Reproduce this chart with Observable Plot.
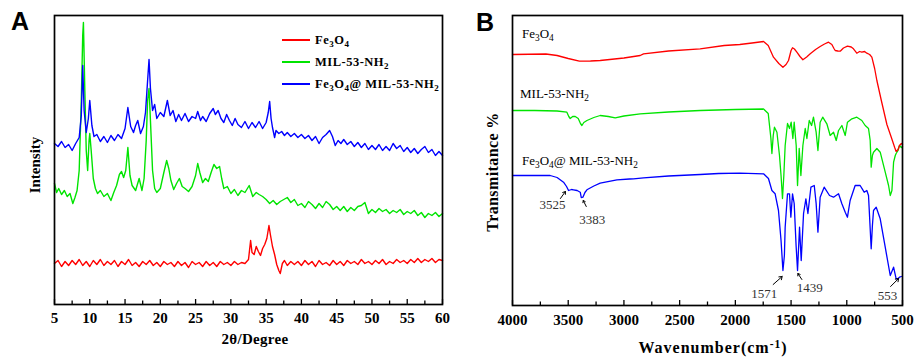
<!DOCTYPE html>
<html><head><meta charset="utf-8">
<script src="https://cdn.jsdelivr.net/npm/d3@7"></script>
<script src="https://cdn.jsdelivr.net/npm/@observablehq/plot@0.6"></script>
<style>
body{margin:0;background:#fff;}
#wrap{position:relative;width:914px;height:357px;overflow:hidden;font-family:"Liberation Serif",serif;color:#000;}
.panel{position:absolute;top:0;}
.lbl{position:absolute;white-space:nowrap;color:#000;line-height:1;}
.s{font-size:0.72em;position:relative;top:0.32em;}
.p{font-size:0.72em;position:relative;top:-0.45em;}
.bold{font-weight:bold;}
.c{transform:translate(-50%,-50%);}
.r{transform:translate(-50%,-50%) rotate(-90deg);}
.ml{transform:translateY(-50%);}
.leg{position:absolute;height:1.5px;}
</style></head><body><div id="wrap"></div>
<script>
// ---------- Panel A: XRD (2θ in degrees, intensity in arbitrary units) ----------
const xrdFe3O4 = [[5,41],[5.5,44],[6,38],[6.5,43],[7,39],[7.5,44],[8,40],[8.5,45],[9,39],[9.5,43],[10,38],[10.5,44],[11,40],[11.5,45],[12,39],[12.5,43],[13,40],[13.5,44],[14,38],[14.5,43],[15,40],[15.5,45],[16,39],[16.5,42],[17,38],[17.5,43],[18,40],[18.5,44],[19,39],[19.5,42],[20,38],[20.5,43],[21,40],[21.5,42],[22,38],[22.5,43],[23,39],[23.5,42],[24,37],[24.5,43],[25,40],[25.5,42],[26,38],[26.5,43],[27,39],[27.5,42],[28,38],[28.5,43],[29,40],[29.5,42],[30,39],[30.5,43],[31,40],[31.5,42],[32,41],[32.5,45],[32.8,64],[33,52],[33.3,50],[33.6,58],[33.9,53],[34.2,49],[34.5,56],[34.8,60],[35.1,66],[35.4,79],[35.6,70],[35.9,58],[36.2,50],[36.5,40],[36.8,34],[37,31],[37.3,41],[37.6,44],[38,39],[38.5,43],[39,40],[39.5,43],[40,39],[40.5,44],[41,40],[41.5,43],[42,38],[42.5,44],[43,40],[43.5,42],[44,39],[44.5,44],[45,40],[45.5,43],[46,39],[46.5,44],[47,41],[47.5,43],[48,40],[48.5,45],[49,41],[49.5,43],[50,40],[50.5,44],[51,41],[51.5,45],[52,40],[52.5,43],[53,41],[53.5,45],[54,42],[54.5,44],[55,41],[55.5,45],[56,42],[56.5,46],[57,42],[57.5,45],[58,43],[58.5,46],[59,42],[59.5,45],[60,44]];
const xrdMIL = [[5,121],[5.3,112],[5.6,116],[6,110],[6.4,114],[6.8,108],[7.2,111],[7.6,101],[7.9,107],[8.2,114],[8.5,134],[8.8,204],[9,269],[9.1,282],[9.3,214],[9.5,154],[9.7,134],[9.9,164],[10,171],[10.2,154],[10.5,126],[10.8,116],[11.1,111],[11.5,114],[12,108],[12.5,111],[13,104],[13.4,112],[13.8,119],[14.2,130],[14.5,133],[14.8,127],[15.1,134],[15.4,157],[15.7,129],[16,119],[16.5,114],[17,126],[17.4,114],[17.7,126],[18,164],[18.2,204],[18.4,216],[18.6,184],[18.9,134],[19.2,116],[19.5,112],[20,116],[20.5,132],[20.9,144],[21.2,136],[21.5,124],[21.9,115],[22.3,121],[22.7,126],[23.1,118],[23.5,116],[24,113],[24.5,118],[25,129],[25.3,141],[25.6,132],[26,122],[26.4,126],[26.8,123],[27.2,132],[27.6,140],[28,136],[28.4,138],[28.7,126],[29,116],[29.5,118],[30,111],[30.5,115],[31,109],[31.5,114],[32,112],[32.6,119],[33.1,108],[33.6,112],[34,110],[34.5,108],[35,105],[35.5,101],[36,104],[36.5,100],[37,103],[37.5,105],[38,107],[38.5,102],[39,105],[39.5,99],[40,101],[40.5,97],[41,103],[41.5,100],[42,96],[42.5,101],[43,97],[43.5,103],[44,100],[44.5,95],[45,98],[45.5,94],[46,98],[46.5,93],[47,97],[47.5,94],[48,98],[48.5,99],[49,102],[49.5,91],[50,95],[50.5,92],[51,96],[51.5,93],[52,95],[52.5,91],[53,94],[53.5,92],[54,95],[54.5,90],[55,93],[55.5,91],[56,94],[56.5,89],[57,92],[57.5,87],[58,91],[58.5,89],[59,92],[59.5,88],[60,91]];
const xrdComposite = [[5,161],[5.5,158],[6,163],[6.5,157],[7,160],[7.5,154],[8,161],[8.5,167],[8.8,189],[9,239],[9.2,194],[9.5,172],[9.8,186],[10,204],[10.3,179],[10.6,168],[11,170],[11.5,163],[12,168],[12.5,162],[13,169],[13.5,164],[14,170],[14.5,166],[15,176],[15.4,197],[15.8,178],[16.2,172],[16.5,179],[16.8,184],[17.2,171],[17.6,178],[17.9,192],[18.2,224],[18.4,245],[18.6,216],[18.9,194],[19.2,200],[19.5,186],[20,192],[20.5,188],[21,204],[21.4,189],[21.8,194],[22.2,183],[22.6,190],[23,184],[23.5,191],[24,183],[24.5,188],[25,186],[25.3,193],[25.7,184],[26,188],[26.5,183],[27,191],[27.5,196],[27.8,190],[28.2,194],[28.6,186],[29,182],[29.4,190],[29.8,184],[30.2,179],[30.6,186],[31,180],[31.5,177],[32,183],[32.5,176],[33,182],[33.5,177],[34,183],[34.5,176],[35,182],[35.3,192],[35.5,203],[35.7,186],[35.9,177],[36.2,167],[36.4,174],[36.8,171],[37.2,173],[37.6,169],[38,172],[38.5,168],[39,171],[39.5,167],[40,170],[40.5,166],[41,169],[41.5,164],[42,168],[42.5,161],[43,167],[43.5,170],[44,174],[44.4,168],[44.8,159],[45.2,164],[45.6,161],[46,165],[46.5,160],[47,163],[47.5,158],[48,162],[48.5,157],[49,161],[49.5,155],[50,159],[50.5,155],[51,160],[51.5,154],[52,158],[52.5,154],[53,161],[53.5,156],[54,159],[54.5,153],[55,157],[55.5,152],[56,156],[56.5,151],[57,155],[57.5,158],[58,152],[58.5,155],[59,149],[59.5,153],[60,149]];
const xrdMajorTicks = [5,10,15,20,25,30,35,40,45,50,55,60];
const xrdMinorTicks = [7.5,12.5,17.5,22.5,27.5,32.5,37.5,42.5,47.5,52.5,57.5];

// ---------- Panel B: FTIR (wavenumber in cm-1, transmittance in arbitrary units) ----------
const ftirFe3O4 = [[4000,251],[3700,251.5],[3600,250],[3500,247],[3400,244.3],[3300,244.5],[3213,245],[3000,247.5],[2854,250],[2824,251.7],[2600,254.5],[2316,256.7],[2100,260],[1960,261],[1850,262.5],[1747,264],[1705,260],[1658,248.3],[1610,242],[1573,238.3],[1545,241],[1523,245],[1500,255],[1487,257.7],[1470,256.5],[1448,253.3],[1420,249],[1394,245.7],[1360,248.5],[1328,251.7],[1280,256],[1239,259],[1200,261.5],[1164,263.3],[1134,261],[1115,257],[1104,255],[1080,254.5],[1059,254.3],[1030,257.5],[994,259.3],[960,258.5],[940,256.7],[910,252.3],[885,254],[865,253.3],[840,254],[820,252.3],[795,251],[775,248.3],[750,237],[730,225],[690,205],[640,181],[600,168],[570,158],[557,154],[540,156],[527,160],[510,162],[500,161]];
const ftirMIL = [[4000,195],[3800,195],[3600,194.5],[3512,193.3],[3495,189],[3482,187],[3460,189],[3437,189],[3410,187],[3390,182],[3377,180],[3360,183],[3332,185],[3270,188],[3213,190],[3140,189],[3078,187.7],[3000,189.5],[2854,191.7],[2600,193.5],[2316,195],[2000,196],[1747,196.5],[1705,192],[1681,167],[1672,152],[1660,170],[1649,178.3],[1627,173.3],[1604,150],[1590,130],[1577,107],[1565,130],[1553,160],[1532,182],[1514,177],[1499,183.3],[1484,167],[1472,183.3],[1454,160],[1442,120],[1427,157],[1412,130],[1394,160],[1373,177],[1358,167],[1337,185],[1316,180],[1299,188.3],[1275,173.3],[1259,155],[1239,183.3],[1216,188.3],[1179,181.7],[1149,170],[1119,173.3],[1095,165],[1074,175],[1044,180],[1014,170],[994,183.3],[954,186.7],[910,188.3],[865,185],[835,180],[805,177],[790,165],[781,138.3],[770,150],[760,153.3],[730,157],[700,153.3],[655,133.3],[625,120],[610,110],[595,115],[580,143.3],[565,150],[557,152],[540,155],[527,160],[510,158],[500,159]];
const ftirComposite = [[4000,130],[3800,130],[3662,130],[3600,128],[3542,123.3],[3515,119],[3497,115],[3470,116],[3453,115.7],[3420,115],[3392,113.3],[3383,108],[3368,108.3],[3350,113],[3332,115.7],[3270,119.5],[3213,122.3],[3063,125.7],[2950,126.5],[2914,126.7],[2824,127.7],[2600,129.5],[2316,131],[2150,132],[1960,132.3],[1747,131.7],[1703,127],[1672,115],[1643,111.7],[1613,95],[1590,65],[1573,35],[1560,50],[1553,78.3],[1532,111.7],[1514,111.7],[1502,88.3],[1487,111.7],[1472,102],[1455,60],[1442,35],[1424,78.3],[1409,45],[1388,92],[1367,106.7],[1349,92],[1322,118.3],[1292,120],[1275,102],[1259,73.3],[1239,108.3],[1203,118.3],[1155,110],[1119,108.3],[1074,111.7],[1044,101.7],[1014,93.3],[994,88.3],[970,105],[925,120],[880,120],[844,113.3],[820,115],[805,110],[781,56.7],[770,80],[760,95],[736,98.3],[700,86.7],[655,58.3],[610,30],[580,38.3],[557,26.7],[540,27],[527,28.3],[510,29]];
const ftirMajorTicks = [4000,3500,3000,2500,2000,1500,1000,500];
const ftirMinorTicks = [3750,3250,2750,2250,1750,1250,750];
const peakLabels = ["3525","3383","1571","1439","553"];
const peakWavenumbers = [3525,3383,1571,1439,553];
const peakTransmittance = [115,108,35,35,27];

const names = ["Fe3O4","MIL-53-NH2","Fe3O4@MIL-53-NH2"];
const colors = ["#ff0000","#00e400","#0000ff"];
const rows = (pairs, i) => pairs.map(([x, y]) => ({x, y, name: names[i]}));

const W = 457, H = 357;
const axisFont = {fontSize: 15, fontWeight: "bold", fontFamily: "Liberation Serif"};
// inward tick marks drawn as short rules from the bottom of the frame (y units = px here)
const inTicks = (values, len) => Plot.ruleX(values, {x: d => d, y1: 0, y2: len, stroke: "#000", strokeWidth: 1.3});

// Panel A
const mA = {l: 54, r: 15, t: 15, b: 53};
const chartA = Plot.plot({
  width: W, height: H, marginLeft: mA.l, marginRight: mA.r, marginTop: mA.t, marginBottom: mA.b,
  x: {domain: [5, 60]},
  y: {domain: [0, 289], axis: null},
  style: {background: "transparent", color: "#000", fontFamily: "Liberation Serif", overflow: "visible"},
  marks: [
    Plot.line(rows(xrdFe3O4, 0), {x: "x", y: "y", stroke: colors[0], strokeWidth: 1.4}),
    Plot.line(rows(xrdMIL, 1), {x: "x", y: "y", stroke: colors[1], strokeWidth: 1.4}),
    Plot.line(rows(xrdComposite, 2), {x: "x", y: "y", stroke: colors[2], strokeWidth: 1.4}),
    Plot.frame({stroke: "#000", strokeWidth: 1.7}),
    inTicks(xrdMajorTicks, 5),
    inTicks(xrdMinorTicks, 3.5),
    Plot.axisX(xrdMajorTicks, {tickSize: 0, tickPadding: 8, label: null, ...axisFont})
  ]
});

// Panel B
const mB = {l: 55, r: 12, t: 15, b: 52};
const kx = (4000 - 500) / (W - mB.l - mB.r); // cm-1 per pixel
// annotation layout in pixel offsets from the marked point: [head], [tail], [label]
const annLayout = [
  {head: [0, 1], tail: [-5, 8], label: [-13, 14]},
  {head: [2, 3], tail: [5, 9], label: [11, 22]},
  {head: [-1, 6], tail: [-10, 14], label: [-19, 23]},
  {head: [0, 3], tail: [4, 9], label: [12, 17]},
  {head: [2, 0], tail: [-6, 8], label: [-9, 17]}
];
const ann = peakLabels.map((t, i) => {
  const w = peakWavenumbers[i], T = peakTransmittance[i], L = annLayout[i];
  return {
    text: t,
    hx: w - L.head[0] * kx, hy: T - L.head[1],
    tx: w - L.tail[0] * kx, ty: T - L.tail[1],
    lx: w - L.label[0] * kx, ly: T - L.label[1]
  };
});
const chartB = Plot.plot({
  width: W, height: H, marginLeft: mB.l, marginRight: mB.r, marginTop: mB.t, marginBottom: mB.b,
  x: {domain: [4000, 500]},
  y: {domain: [0, 290], axis: null},
  style: {background: "transparent", color: "#000", fontFamily: "Liberation Serif", overflow: "visible"},
  marks: [
    Plot.line(rows(ftirComposite, 2), {x: "x", y: "y", stroke: colors[2], strokeWidth: 1.3}),
    Plot.line(rows(ftirMIL, 1), {x: "x", y: "y", stroke: colors[1], strokeWidth: 1.3}),
    Plot.line(rows(ftirFe3O4, 0), {x: "x", y: "y", stroke: colors[0], strokeWidth: 1.3}),
    Plot.arrow(ann, {x1: "tx", y1: "ty", x2: "hx", y2: "hy", stroke: "#000", strokeWidth: 1, headLength: 5, headAngle: 70}),
    Plot.text(ann, {x: "lx", y: "ly", text: "text", fontSize: 13, fill: "#333", fontFamily: "Liberation Serif"}),
    Plot.frame({stroke: "#000", strokeWidth: 1.7}),
    inTicks(ftirMajorTicks, 5),
    inTicks(ftirMinorTicks, 3.5),
    Plot.axisX(ftirMajorTicks, {tickSize: 0, tickPadding: 9, label: null, tickFormat: d => String(d), ...axisFont})
  ]
});

const wrap = document.getElementById("wrap");
const pA = document.createElement("div"); pA.className = "panel"; pA.style.left = "0px"; pA.appendChild(chartA);
const pB = document.createElement("div"); pB.className = "panel"; pB.style.left = W + "px"; pB.appendChild(chartB);
wrap.appendChild(pA); wrap.appendChild(pB);

function label(html, css, cls) {
  const d = document.createElement("div");
  d.className = "lbl " + (cls || "");
  d.innerHTML = html;
  Object.assign(d.style, css);
  wrap.appendChild(d);
}
// panel letters
label("A", {left: "11px", top: "9px", fontFamily: "'Liberation Sans',Arial,sans-serif", fontWeight: "bold", fontSize: "25px"});
label("B", {left: "476px", top: "10px", fontFamily: "'Liberation Sans',Arial,sans-serif", fontWeight: "bold", fontSize: "25px"});
// axis titles
label("Intensity", {left: "35px", top: "165px", fontSize: "15px"}, "bold r");
label("2θ/Degree", {left: "255px", top: "339px", fontSize: "15px", letterSpacing: "0.3px"}, "bold c");
label("Transmitance %", {left: "493px", top: "172px", fontSize: "16px", letterSpacing: "0.4px"}, "bold r");
label("Wavenumber(cm<span class='p'>-1</span>)", {left: "713px", top: "348px", fontSize: "16px", letterSpacing: "1px"}, "bold c");
// legend in panel A
const legendTexts = ["Fe<span class='s'>3</span>O<span class='s'>4</span>", "MIL-53-NH<span class='s'>2</span>", "Fe<span class='s'>3</span>O<span class='s'>4</span>@ MIL-53-NH<span class='s'>2</span>"];
const legendY = [40, 62, 84];
legendTexts.forEach((t, i) => {
  const ln = document.createElement("div");
  ln.className = "leg";
  Object.assign(ln.style, {left: "282px", width: "28px", top: (legendY[i] - 0.75) + "px", backgroundColor: colors[i]});
  wrap.appendChild(ln);
  label(t, {left: "315px", top: legendY[i] + "px", fontSize: "12.5px", letterSpacing: "0.5px"}, "bold ml");
});
// curve labels in panel B
label("Fe<span class='s'>3</span>O<span class='s'>4</span>", {left: "522px", top: "34px", fontSize: "13px"}, "ml");
label("MIL-53-NH<span class='s'>2</span>", {left: "520px", top: "94px", fontSize: "13px"}, "ml");
label("Fe<span class='s'>3</span>O<span class='s'>4</span>@ MIL-53-NH<span class='s'>2</span>", {left: "522px", top: "161px", fontSize: "13px"}, "ml");
</script></body></html>
